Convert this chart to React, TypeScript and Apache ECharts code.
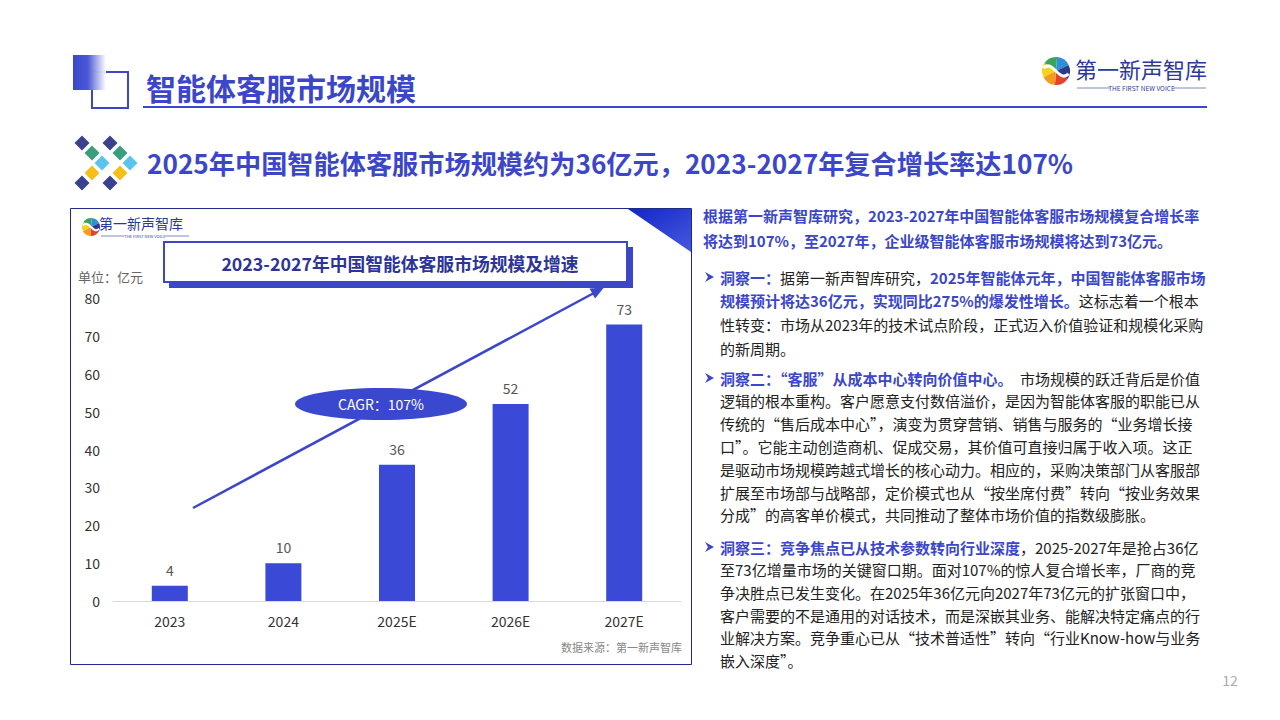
import React, { useEffect, useRef } from "react";
import * as echarts from "echarts";

const categories = ["2023", "2024", "2025E", "2026E", "2027E"];
const marketSize = [4, 10, 36, 52, 73];
const yMin = 0;
const yMax = 80;
const yInterval = 10;
const cagrLabel = "CAGR：107%";

const pageTitle = "智能体客服市场规模";
const subTitle = "2025年中国智能体客服市场规模约为36亿元，2023-2027年复合增长率达107%";
const chartTitle = "2023-2027年中国智能体客服市场规模及增速";
const unitLabel = "单位：亿元";
const sourceLabel = "数据来源：第一新声智库";
const brandName = "第一新声智库";
const brandSub = "THE FIRST NEW VOICE";
const pageNo = "12";

const introLines = [
  "根据第一新声智库研究，2023-2027年中国智能体客服市场规模复合增长率",
  "将达到107%，至2027年，企业级智能体客服市场规模将达到73亿元。",
];

// each line: list of [style, text]
const bullet1 = [
  [["b", "洞察一："], ["n", "据第一新声智库研究，"], ["b", "2025年智能体元年，中国智能体客服市场"]],
  [["b", "规模预计将达36亿元，实现同比275%的爆发性增长。"], ["n", "这标志着一个根本"]],
  [["n", "性转变：市场从2023年的技术试点阶段，正式迈入价值验证和规模化采购"]],
  [["n", "的新周期。"]],
];
const bullet2 = [
  [["b", "洞察二：“客服”从成本中心转向价值中心。"], ["n", "市场规模的跃迁背后是价值"]],
  [["n", "逻辑的根本重构。客户愿意支付数倍溢价，是因为智能体客服的职能已从"]],
  [["n", "传统的“售后成本中心”，演变为贯穿营销、销售与服务的“业务增长接"]],
  [["n", "口”。它能主动创造商机、促成交易，其价值可直接归属于收入项。这正"]],
  [["n", "是驱动市场规模跨越式增长的核心动力。相应的，采购决策部门从客服部"]],
  [["n", "扩展至市场部与战略部，定价模式也从“按坐席付费”转向“按业务效果"]],
  [["n", "分成”的高客单价模式，共同推动了整体市场价值的指数级膨胀。"]],
];
const bullet3 = [
  [["b", "洞察三：竞争焦点已从技术参数转向行业深度"], ["n", "，2025-2027年是抢占36亿"]],
  [["n", "至73亿增量市场的关键窗口期。面对107%的惊人复合增长率，厂商的竞"]],
  [["n", "争决胜点已发生变化。在2025年36亿元向2027年73亿元的扩张窗口中，"]],
  [["n", "客户需要的不是通用的对话技术，而是深嵌其业务、能解决特定痛点的行"]],
  [["n", "业解决方案。竞争重心已从“技术普适性”转向“行业Know-how与业务"]],
  [["n", "嵌入深度”。"]],
];

const FONT = '"Noto Sans CJK SC", "Noto Sans", sans-serif';
const BLUE = "#3b47c8";
const BAR = "#3a4ad6";

function richText(segs: string[][]) {
  return segs.map(([s, t]) => `{${s}|${t}}`).join("");
}

function logo(cx: number, cy: number, r: number, textX: number, textY: number, fs: number, subFs: number, subY: number, lineW: number) {
  const colors = ["#e8412c", "#f39c1f", "#f6d21e", "#3aa55a", "#2f8fd8", "#2c3a8c"];
  const els: any[] = [];
  colors.forEach((c, i) => {
    els.push({
      type: "sector",
      shape: { cx, cy, r, r0: 0, startAngle: (Math.PI * 2 * i) / 6 + 0.6, endAngle: (Math.PI * 2 * (i + 1)) / 6 + 0.6 },
      style: { fill: c },
    });
  });
  els.push({
    type: "bezierCurve",
    shape: { x1: cx - r * 0.9, y1: cy - r * 0.2, x2: cx + r * 0.9, y2: cy + r * 0.2, cpx1: cx - r * 0.2, cpy1: cy - r * 0.9, cpx2: cx + r * 0.2, cpy2: cy + r * 0.9 },
    style: { stroke: "#fff", lineWidth: r * 0.22, fill: null },
  });
  els.push({
    type: "text",
    style: { text: brandName, x: textX, y: textY, font: `${fs}px ${FONT}`, fill: "#2b3a9a", verticalAlign: "middle", textAlign: "left", lineHeight: fs },
  });
  const subCx = textX + lineW / 2;
  els.push({
    type: "text",
    style: { text: brandSub, x: subCx, y: subY, font: `${subFs}px ${FONT}`, fill: "#2b3a9a", verticalAlign: "middle", textAlign: "center", lineHeight: subFs },
  });
  const half = subFs * 4.6;
  els.push({ type: "line", shape: { x1: textX + 2, y1: subY, x2: subCx - half - 2, y2: subY }, style: { stroke: "#2b3a9a", lineWidth: 0.6 } });
  els.push({ type: "line", shape: { x1: subCx + half + 2, y1: subY, x2: textX + lineW - 2, y2: subY }, style: { stroke: "#2b3a9a", lineWidth: 0.6 } });
  return els;
}

function diamond(cx: number, cy: number, h: number, fill: string) {
  return {
    type: "polygon",
    shape: { points: [[cx, cy - h], [cx + h, cy], [cx, cy + h], [cx - h, cy]] },
    style: { fill },
  };
}

function bulletArrow(x: number, y: number) {
  return {
    type: "polygon",
    shape: { points: [[x, y - 5], [x + 9, y], [x, y + 5], [x + 3, y]] },
    style: { fill: BLUE },
  };
}

export default function App() {
  const ref = useRef<HTMLDivElement>(null);

  useEffect(() => {
    if (!ref.current) return;
    const chart = echarts.init(ref.current, undefined, { renderer: "svg" });

    const g: any[] = [];

    // header
    g.push({ type: "rect", shape: { x: 92, y: 72, width: 36, height: 36 }, style: { fill: "none", stroke: BLUE, lineWidth: 2 } });
    g.push({
      type: "rect",
      shape: { x: 73, y: 55, width: 33, height: 35 },
      style: {
        fill: new echarts.graphic.LinearGradient(0, 0, 1, 0, [
          { offset: 0, color: "#3a46cf" },
          { offset: 0.45, color: "#4c58d6" },
          { offset: 1, color: "rgba(255,255,255,0.95)" },
        ]),
      },
    });
    g.push({ type: "text", style: { text: pageTitle, x: 146, y: 87, font: `bold 30px ${FONT}`, fill: BLUE, verticalAlign: "middle" } });
    g.push({ type: "line", shape: { x1: 143, y1: 107, x2: 1207, y2: 107 }, style: { stroke: BLUE, lineWidth: 2 } });
    logo(1056, 71, 14, 1075, 68, 22, 6.5, 88, 133).forEach((e) => g.push(e));

    // subtitle diamonds
    const dh = 7.5;
    const left = [[82, 143, "#3a4290"], [92, 153, "#3a9e7c"], [102, 163, "#5bc4ee"], [92, 173, "#f5bf1a"], [82, 183, "#3a4290"]];
    left.forEach(([x, y, c]) => {
      g.push(diamond(x as number, y as number, dh, c as string));
      g.push(diamond((x as number) + 28, y as number, dh, c as string));
    });
    g.push({ type: "text", style: { text: subTitle, x: 147, y: 163, font: `bold 26.2px ${FONT}`, fill: BLUE, verticalAlign: "middle" } });

    // chart panel
    g.push({ type: "rect", shape: { x: 70.5, y: 208.5, width: 621, height: 456 }, style: { fill: "none", stroke: "#1d2a86", lineWidth: 1 } });
    g.push({
      type: "polygon",
      shape: { points: [[628, 209], [691, 209], [691, 252]] },
      style: {
        fill: new echarts.graphic.LinearGradient(0, 0, 1, 1, [
          { offset: 0, color: "#1226c4" },
          { offset: 1, color: "#4658e0" },
        ]),
      },
    });
    logo(91, 227, 9, 99, 223, 14, 4, 236, 92).forEach((e) => g.push(e));
    g.push({ type: "rect", shape: { x: 169, y: 247, width: 464, height: 41 }, style: { fill: BLUE } });
    g.push({ type: "rect", shape: { x: 164, y: 242, width: 463, height: 40 }, style: { fill: "#fff", stroke: BLUE, lineWidth: 2 } });
    g.push({ type: "text", style: { text: chartTitle, x: 400, y: 263, font: `bold 17.8px ${FONT}`, fill: "#2c3596", verticalAlign: "middle", textAlign: "center" } });
    g.push({ type: "text", style: { text: unitLabel, x: 78, y: 276, font: `13px ${FONT}`, fill: "#666", verticalAlign: "middle" } });
    g.push({ type: "text", style: { text: sourceLabel, x: 682, y: 647, font: `11px ${FONT}`, fill: "#888", verticalAlign: "middle", textAlign: "right" } });

    // CAGR arrow
    g.push({ type: "line", shape: { x1: 193, y1: 508, x2: 593, y2: 293.5 }, style: { stroke: BLUE, lineWidth: 2.5 } });
    g.push({ type: "polygon", shape: { points: [[604, 287.5], [595, 298.5], [589.5, 288.5]] }, style: { fill: BLUE } });
    g.push({ type: "ellipse", shape: { cx: 381, cy: 404, rx: 86, ry: 16 }, style: { fill: "#3a48d0" } });
    g.push({ type: "text", style: { text: cagrLabel, x: 381, y: 404, font: `14px ${FONT}`, fill: "#fff", verticalAlign: "middle", textAlign: "center" } });

    // right text
    const rich = {
      b: { font: `bold 15px ${FONT}`, fill: BLUE, color: BLUE, fontWeight: "bold", fontSize: 15, fontFamily: FONT },
      n: { font: `15px ${FONT}`, fill: "#222", color: "#222", fontSize: 15, fontFamily: FONT },
    };
    introLines.forEach((t, i) => {
      g.push({ type: "text", style: { text: `{b|${t}}`, rich, x: 703, y: 215 + i * 25, verticalAlign: "middle" } });
    });
    const blocks: [any[], number, number][] = [
      [bullet1, 277, 23.7],
      [bullet2, 378, 22.8],
      [bullet3, 547, 22.7],
    ];
    blocks.forEach(([lines, y0, lh]) => {
      g.push(bulletArrow(705, y0));
      lines.forEach((segs: string[][], i: number) => {
        g.push({ type: "text", style: { text: richText(segs), rich, x: 720, y: y0 + i * lh, verticalAlign: "middle" } });
      });
    });

    g.push({ type: "text", style: { text: pageNo, x: 1230, y: 680, font: `14px ${FONT}`, fill: "#aaa", verticalAlign: "middle", textAlign: "center" } });

    chart.setOption({
      animation: false,
      backgroundColor: "#fff",
      textStyle: { fontFamily: FONT },
      grid: { left: 113, right: 599, top: 298, bottom: 119, containLabel: false },
      xAxis: {
        type: "category",
        data: categories,
        axisLine: { lineStyle: { color: "#d9d9d9", width: 1 } },
        axisTick: { show: false },
        axisLabel: { color: "#333", fontSize: 14, margin: 13, fontFamily: FONT },
      },
      yAxis: {
        type: "value",
        min: yMin,
        max: yMax,
        interval: yInterval,
        splitLine: { show: false },
        axisLine: { show: false },
        axisTick: { show: false },
        axisLabel: { color: "#333", fontSize: 14, margin: 13, fontFamily: FONT },
      },
      series: [
        {
          type: "bar",
          data: marketSize,
          barWidth: 36,
          itemStyle: { color: BAR },
          label: { show: true, position: "top", distance: 9, color: "#555", fontSize: 14, fontFamily: FONT },
        },
      ],
      graphic: { elements: g },
    });

    return () => chart.dispose();
  }, []);

  return <div ref={ref} style={{ position: "fixed", left: 0, top: 0, width: 1280, height: 720 }} />;
}
